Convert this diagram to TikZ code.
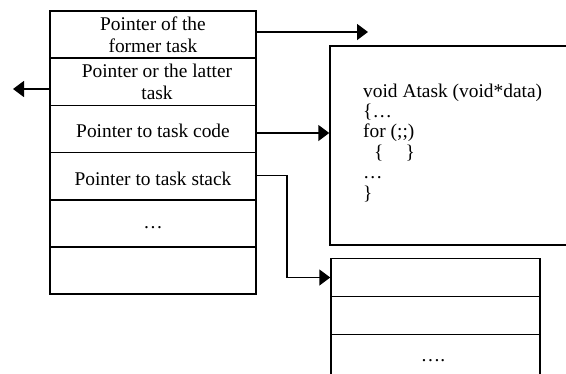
\documentclass[tikz,border=0pt]{standalone}
\usepackage{fontspec}
\setmainfont{Liberation Serif}
\usetikzlibrary{arrows.meta}
\begin{document}
\begin{tikzpicture}[x=1pt,y=-1pt,
  every node/.style={font=\fontsize{19.4}{22}\selectfont},
  cell/.style={draw,line width=1.5pt,minimum width=206pt,minimum height=47.17pt,
    inner sep=0pt,align=center},
  scell/.style={draw,line width=1.5pt,minimum width=209pt,minimum height=38pt,inner sep=0pt},
  codeline/.style={anchor=base west,inner sep=0pt},
  ptr/.style={line width=1.5pt,-{Triangle[length=11pt,width=16pt]}}]
\useasboundingbox (0,0) rectangle (566,373);
\clip (0,0) rectangle (566,373);

% task control block; single-line rows put the baseline a set distance below the centre
\newcommand{\sunk}[2]{\raisebox{-#1}[0pt][0pt]{#2}}
\node[cell] (r1) at (153,34.6)  {Pointer of the\\former task};
\node[cell] (r2) at (153,81.8)  {\hspace*{8pt}Pointer or the latter\\\hspace*{8pt}task};
\node[cell] (r3) at (153,129.0) {\sunk{8.3pt}{Pointer to task code}};
\node[cell] (r4) at (153,176.2) {\sunk{9pt}{Pointer to task stack}};
\node[cell] (r5) at (153,223.3) {\sunk{5pt}{…}};
\node[cell] (r6) at (153,270.5) {};

% task code
\node[draw,line width=1.5pt,minimum width=280pt,minimum height=199pt,inner sep=0pt]
  (code) at (470,145.5) {};
\node[codeline] (c1) at (363,97)  {void Atask (void*data)};
\node[codeline] (c2) at (363,117.4) {\{…};
\node[codeline] (c3) at (363,137.8) {for (;;)};
\node[codeline] (c4) at (363,158.2) {\hspace*{11pt}\{\hspace*{22pt}\}};
\node[codeline] (c5) at (363,178.6) {…};
\node[codeline] (c6) at (363,199)   {\}};

% task stack
\node[scell] (s1) at (435.5,277.5) {};
\node[scell] (s2) at (435.5,315.5) {};
\node[scell,minimum height=60pt] (s3) at (435.5,364.5) {};
\node[anchor=base] (sdots) at (433,361) {….};

% connectors
\coordinate (p1) at (368,32);
\coordinate (p2) at (13,89);
\coordinate (p3) at (0,133);
\coordinate (p4) at (287,175.5);
\draw[ptr] (r1.east |- p1) -- (p1);
\draw[ptr] (r2.west |- p2) -- (p2);
\draw[ptr] (r3.east |- p3) -- (code.west |- p3);
\draw[ptr] (r4.east |- p4) -- (p4) |- (s1.west);
\end{tikzpicture}
\end{document}
